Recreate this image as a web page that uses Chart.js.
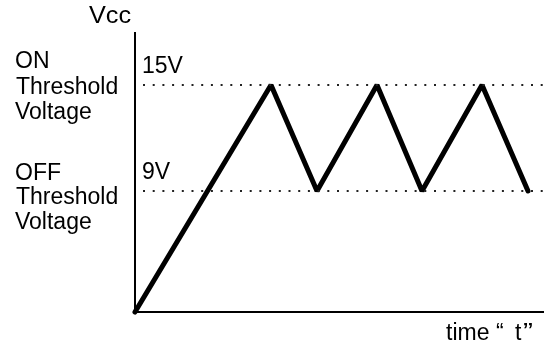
<!DOCTYPE html>
<html>
<head>
<meta charset="utf-8">
<script src="https://cdn.jsdelivr.net/npm/chart.js@4/dist/chart.umd.min.js"></script>
<style>
  html, body { margin: 0; padding: 0; background: #fff; }
  #wrap { width: 545px; height: 347px; }
</style>
</head>
<body>
<div id="wrap"><canvas id="vccChart" width="545" height="347"></canvas></div>
<script>
// time axis (arbitrary units) and Vcc levels (arbitrary units, origin = 0)
const times = [0, 136, 182, 242, 287, 347, 393];
const vcc = [0, 227, 121, 227, 121, 227, 121];
const onLevel = 227;
const offLevel = 121;
const thresholdSpan = [8, 412];
const xMax = 408;
const yMax = 279;

const FONT = '23px "Liberation Sans", Arial, sans-serif';

// text labels drawn on top of the chart
const labels = [
    {text: 'Vcc', x: 89, y: 23, scaleX: 1.1},
    {text: 'ON', x: 15, y: 68},
    {text: 'Threshold', x: 16, y: 94},
    {text: 'Voltage', x: 15, y: 119},
    {text: 'OFF', x: 15, y: 180},
    {text: 'Threshold', x: 16, y: 204},
    {text: 'Voltage', x: 15, y: 229},
    {text: '15V', x: 142, y: 73},
    {text: '9V', x: 142, y: 179},
    // axis label "time “ t”", spaced like the original
    {text: 'time', x: 446, y: 340},
    {text: '\u201c', x: 496, y: 340},
    {text: 't', x: 515, y: 340},
    {text: '\u201d', x: 523, y: 340, scaleX: 1.3}
];

const textPlugin = {
    id: 'texts',
    afterDraw(chart) {
        const ctx = chart.ctx;
        ctx.save();
        ctx.font = FONT;
        ctx.fillStyle = '#000';
        ctx.textBaseline = 'alphabetic';
        ctx.textAlign = 'left';
        labels.forEach(l => {
            ctx.save();
            ctx.translate(l.x, l.y);
            ctx.scale(l.scaleX || 1, 1);
            ctx.fillText(l.text, 0, 0);
            ctx.restore();
        });
        ctx.restore();
    }
};

const thresholdLine = level => ({
    data: thresholdSpan.map(x => ({x: x, y: level})),
    borderColor: '#222',
    borderWidth: 2,
    borderDash: [2, 7.7],
    borderCapStyle: 'butt',
    pointRadius: 0,
    clip: false
});

document.addEventListener('DOMContentLoaded', () => {
    const ctx = document.getElementById('vccChart').getContext('2d');

    new Chart(ctx, {
        type: 'line',
        data: {
            datasets: [
                thresholdLine(onLevel),
                thresholdLine(offLevel),
                {
                    data: times.map((t, i) => ({x: t, y: vcc[i]})),
                    borderColor: '#000',
                    borderWidth: 5,
                    borderJoinStyle: 'bevel',
                    borderCapStyle: 'round',
                    pointRadius: 0,
                    tension: 0,
                    clip: false
                }
            ]
        },
        options: {
            responsive: false,
            animation: false,
            layout: {
                padding: {left: 135, right: 2, top: 33, bottom: 35}
            },
            plugins: {
                legend: {display: false},
                tooltip: {enabled: false}
            },
            scales: {
                x: {
                    type: 'linear',
                    min: 0,
                    max: xMax,
                    grid: {display: false, drawTicks: false, tickLength: 0},
                    ticks: {display: false},
                    border: {display: true, color: '#000', width: 2}
                },
                y: {
                    type: 'linear',
                    min: 0,
                    max: yMax,
                    grid: {display: false, drawTicks: false, tickLength: 0},
                    ticks: {display: false},
                    border: {display: true, color: '#000', width: 2}
                }
            }
        },
        plugins: [textPlugin]
    });
});
</script>
</body>
</html>
